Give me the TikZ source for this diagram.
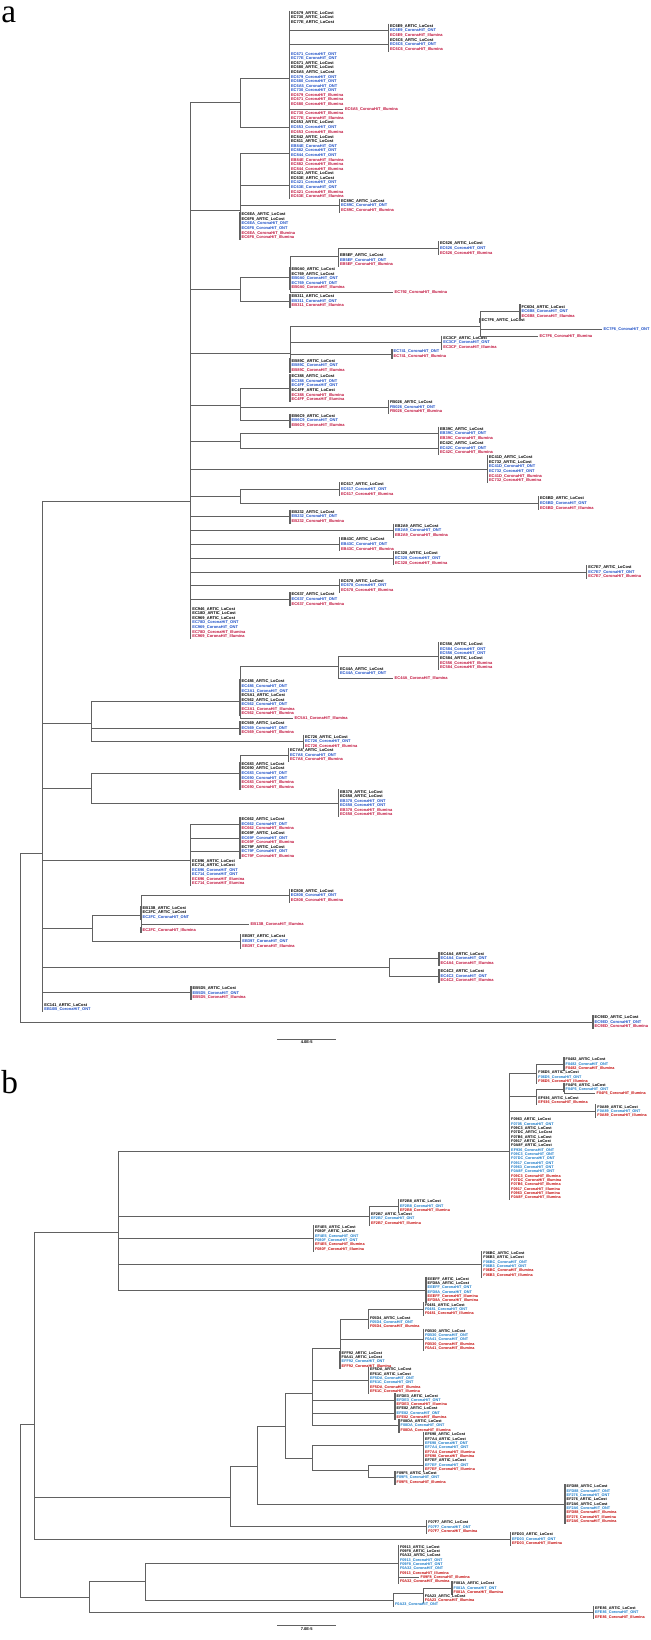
\documentclass[tikz,border=0pt]{standalone}
\usepackage{fontspec}
\setmainfont{Liberation Serif}
\newfontfamily\leaffont{Liberation Sans}
\usetikzlibrary{positioning}

\definecolor{aont}{RGB}{28,78,198}
\definecolor{aill}{RGB}{192,16,58}
\definecolor{bont}{RGB}{24,122,200}
\definecolor{bill}{RGB}{196,8,8}
\colorlet{ontc}{aont}
\colorlet{illc}{aill}

\newcommand{\leafA}{\leaffont\bfseries\fontsize{3}{3.43}\selectfont}
\newcommand{\leafB}{\leaffont\bfseries\fontsize{2.85}{3.25}\selectfont}
\newcommand{\lcost}[1]{#1\_ARTIC\_LoCost}
\newcommand{\ont}[1]{\textcolor{ontc}{#1\_CoronaHiT\_ONT}}
\newcommand{\ilmn}[1]{\textcolor{illc}{#1\_CoronaHiT\_Illumina}}
\newcommand{\trio}[1]{\lcost{#1}\\\ont{#1}\\\ilmn{#1}}
\newcommand{\leafgrp}[4]{\node[leaf] (#1) at (#2,#3) {#4};
  \draw[bar] (#1.north west) -- (#1.south west);}
\newcommand{\leafone}[4]{\node[leaf] (#1) at (#2,#3) {#4};}

\begin{document}
\begin{tikzpicture}[x=0.75pt,y=-0.75pt,
    br/.style={draw=black!62, line width=0.7pt},
    bar/.style={draw=black!62, line width=0.9pt},
    leaf/.style={anchor=west, inner xsep=1.1pt, inner ysep=0.5pt, align=left, font=\leafA},
    panel/.style={anchor=base west, inner sep=0pt, font=\fontsize{25}{25}\selectfont},
    scaletxt/.style={below=0.8pt, inner sep=0pt, font=\leafA}]
  \useasboundingbox (0,0) rectangle (650,1640);

  % ---- a ----
  \node[panel] (la) at (1,23) {a};

  \coordinate (aR) at (20.7,937);
  \coordinate (a1) at (42.7,853);
  \coordinate (aB) at (190.7,501.7);
  \coordinate (aC1) at (240,102.7);
  \coordinate (aD1) at (289.3,78.3);
  \coordinate (aC2) at (240,210.7);
  \coordinate (aC3) at (240,289.3);
  \coordinate (aD3) at (290,277.3);
  \coordinate (aE1) at (338.3,256.7);
  \coordinate (aC4) at (290,353.3);
  \coordinate (aE2) at (480,326);
  \coordinate (aC5) at (240,405.7);
  \coordinate (aC6) at (240,441);
  \coordinate (aC7) at (240,496.3);
  \coordinate (a2) at (91.7,723.3);
  \coordinate (a2a) at (240,701);
  \coordinate (a2b) at (338.3,666);
  \coordinate (a3) at (91.7,788.3);
  \coordinate (a3a) at (240,773.3);
  \coordinate (a4) at (190.5,860.7);
  \coordinate (a5) at (92,928.5);
  \coordinate (a5a) at (141,915.3);
  \coordinate (a6) at (389,967.5);

  \leafgrp{z01}{289.3}{17.7}{\lcost{EC679}\\\lcost{EC730}\\\lcost{EC77E}}
  \leafgrp{g01}{388.3}{30.7}{\trio{EC6E9}}
  \leafgrp{g02}{388.3}{44.7}{\trio{EC6C6}}
  \leafgrp{z02}{289.3}{79.2}{\ont{EC671}\\\ont{EC77E}\\\lcost{EC671}\\\lcost{EC680}\\\lcost{EC6A5}\\\ont{EC679}\\\ont{EC680}\\\ont{EC6A5}\\\ont{EC730}\\\ilmn{EC679}\\\ilmn{EC671}\\\ilmn{EC680}}
  \leafone{s01}{343.3}{109}{\ilmn{EC6A5}}
  \leafgrp{z03}{289.3}{116}{\ilmn{EC730}\\\ilmn{EC77E}}
  \leafgrp{g03}{289.3}{127.3}{\trio{EC653}}
  \leafgrp{g04}{289.3}{153}{\lcost{EC842}\\\lcost{EC811}\\\ont{EB84E}\\\ont{EC882}\\\ont{EC844}\\\ilmn{EB84E}\\\ilmn{EC882}\\\ilmn{EC844}}
  \leafgrp{g05}{289.3}{185}{\lcost{EC421}\\\lcost{EC63E}\\\ont{EC421}\\\ont{EC63E}\\\ilmn{EC421}\\\ilmn{EC63E}}
  \leafgrp{g06}{339.3}{205.7}{\trio{EC89C}}
  \leafgrp{z04}{240}{226}{\lcost{EC6EA}\\\lcost{EC6F8}\\\ont{EC6EA}\\\ont{EC6F8}\\\ilmn{EC6EA}\\\ilmn{EC6F8}}
  \leafgrp{g08}{438.3}{248.3}{\trio{EC626}}
  \leafgrp{z06}{338.3}{260}{\trio{EB5EF}}
  \leafgrp{z05}{290}{278.5}{\lcost{EB0A0}\\\lcost{EC769}\\\ont{EB0A0}\\\ont{EC769}\\\ilmn{EB0A0}}
  \leafone{s02}{393}{292.3}{\ilmn{EC792}}
  \leafgrp{g07}{290}{301}{\trio{EB311}}
  \leafgrp{g11}{520}{311.5}{\lcost{FC6D4}\\\ont{EC6B8}\\\ilmn{EC6B8}}
  \leafgrp{z08}{480}{320.5}{\lcost{EC7F6}}
  \leafone{s03}{602}{329}{\ont{EC7F6}}
  \leafone{s04}{538}{336}{\ilmn{EC7F6}}
  \leafgrp{g09}{441.7}{342.7}{\trio{EC3CF}}
  \leafgrp{g10}{392}{354}{\ont{EC741}\\\ilmn{EC741}}
  \leafgrp{z07}{290}{365.5}{\trio{EB89C}}
  \leafgrp{g12}{290}{388}{\lcost{EC388}\\\ont{EC388}\\\ont{EC4FF}\\\lcost{EC4FF}\\\ilmn{EC388}\\\ilmn{EC4FF}}
  \leafgrp{g13}{388.3}{407}{\trio{FB026}}
  \leafgrp{g14}{290}{420.7}{\trio{EB6C9}}
  \leafgrp{g15}{438.3}{433.7}{\trio{EB39C}}
  \leafgrp{g16}{438.3}{448}{\trio{EC42C}}
  \leafgrp{g17}{487.3}{469}{\lcost{EC41D}\\\lcost{EC732}\\\ont{EC41D}\\\ont{EC732}\\\ilmn{EC41D}\\\ilmn{EC732}}
  \leafgrp{g18}{339.3}{489.3}{\trio{EC617}}
  \leafgrp{g19}{538.3}{503.3}{\trio{EC6BD}}
  \leafgrp{g20}{290}{516.7}{\trio{EB232}}
  \leafgrp{g21}{393.3}{530.7}{\trio{EB2A9}}
  \leafgrp{g22}{339.3}{544.3}{\trio{EB43C}}
  \leafgrp{g23}{393.3}{558.3}{\trio{EC328}}
  \leafgrp{g24}{586.7}{572}{\trio{EC7E7}}
  \leafgrp{g25}{339.3}{585.7}{\trio{EC678}}
  \leafgrp{g26}{290}{599.3}{\trio{EC637}}
  \leafgrp{z09}{190.7}{622.7}{\lcost{EC946}\\\lcost{EC18D}\\\lcost{EC969}\\\ont{EC78D}\\\ont{EC969}\\\ilmn{EC78D}\\\ilmn{EC969}}
  \leafgrp{g29}{438.3}{656}{\lcost{EC556}\\\ont{EC584}\\\ont{EC556}\\\lcost{EC584}\\\ilmn{EC556}\\\ilmn{EC584}}
  \leafgrp{z11}{338.3}{671.3}{\lcost{EC44A}\\\ont{EC44A}}
  \leafone{s06}{393}{678}{\ilmn{EC44A}}
  \leafgrp{z10}{240}{697.8}{\lcost{EC486}\\\ont{EC486}\\\ont{EC2A1}\\\lcost{EC5A1}\\\lcost{EC562}\\\ont{EC562}\\\ilmn{EC2A1}\\\ilmn{EC562}}
  \leafone{s05}{293}{718.7}{\ilmn{EC5A1}}
  \leafgrp{g27}{240}{728}{\trio{EC569}}
  \leafgrp{g28}{303.3}{741.7}{\trio{EC726}}
  \leafgrp{g31}{288.3}{755}{\trio{EC7A8}}
  \leafgrp{z12}{240}{775.7}{\lcost{EC683}\\\lcost{EC690}\\\ont{EC683}\\\ont{EC690}\\\ilmn{EC683}\\\ilmn{EC690}}
  \leafgrp{g30}{338.3}{803.3}{\lcost{EB378}\\\lcost{EC658}\\\ont{EB378}\\\ont{EC658}\\\ilmn{EB378}\\\ilmn{EC658}}
  \leafgrp{g32}{240}{824}{\trio{EC662}}
  \leafgrp{g33}{240}{838}{\trio{EC69F}}
  \leafgrp{g34}{240}{851.7}{\trio{EC79F}}
  \leafgrp{z13}{190.5}{872.3}{\lcost{EC696}\\\lcost{EC714}\\\ont{EC696}\\\ont{EC714}\\\ilmn{EC696}\\\ilmn{EC714}}
  \leafgrp{g36}{289.2}{895.8}{\trio{EC808}}
  \leafgrp{z14}{141}{912.8}{\lcost{EB13B}\\\lcost{EC2FC}\\\ont{EC2FC}}
  \leafone{s07}{249}{924.4}{\ilmn{EB13B}}
  \leafgrp{z15}{141}{930}{\ilmn{EC2FC}}
  \leafgrp{g35}{240.7}{941.4}{\trio{EB397}}
  \leafgrp{g37}{439}{958.8}{\trio{EC4A4}}
  \leafgrp{g38}{439}{976}{\trio{EC4C2}}
  \leafgrp{g39}{191}{992.9}{\trio{EB5D5}}
  \leafgrp{z16}{42.7}{1007.3}{\lcost{EC141}\\\ont{EB10B}}
  \leafgrp{g40}{593}{1022}{\trio{EC9ED}}

  \draw[br] (aR) |- (a1) (aR) |- (g40.west);
  \draw[br] (a1) |- (aB) (a1) |- (a2) (a1) |- (a3) (a1) |- (a4) (a1) |- (a5) (a1) |- (a6) (a1) |- (g39.west) (a1) |- (z16.west);
  \draw[br] (aB) |- (aC1) (aB) |- (aC2) (aB) |- (aC3) (aB) |- (aC4) (aB) |- (aC5) (aB) |- (aC6) (aB) |- (g17.west) (aB) |- (aC7);
  \draw[br] (aB) |- (g20.west) (aB) |- (g21.west) (aB) |- (g22.west) (aB) |- (g23.west) (aB) |- (g24.west) (aB) |- (g25.west) (aB) |- (g26.west) (aB) |- (z09.west);
  \draw[br] (aC1) |- (aD1) (aC1) |- (g03.west);
  \draw[br] (aD1) |- (z01.west) (aD1) |- (g01.west) (aD1) |- (g02.west) (aD1) |- (z02.west) (aD1) |- (s01.west) (aD1) |- (z03.west);
  \draw[br] (aC2) |- (g04.west) (aC2) |- (g05.west) (aC2) |- (g06.west) (aC2) |- (z04.west);
  \draw[br] (aC3) |- (aD3) (aC3) |- (g07.west);
  \draw[br] (aD3) |- (aE1) (aD3) |- (z05.west) (aD3) |- (s02.west);
  \draw[br] (aE1) |- (g08.west) (aE1) |- (z06.west);
  \draw[br] (aC4) |- (aE2) (aC4) |- (g09.west) (aC4) |- (g10.west) (aC4) |- (z07.west);
  \draw[br] (aE2) |- (g11.west) (aE2) |- (z08.west) (aE2) |- (s03.west) (aE2) |- (s04.west);
  \draw[br] (aC5) |- (g12.west) (aC5) |- (g13.west) (aC5) |- (g14.west);
  \draw[br] (aC6) |- (g15.west) (aC6) |- (g16.west);
  \draw[br] (aC7) |- (g18.west) (aC7) |- (g19.west);
  \draw[br] (a2) |- (a2a) (a2) |- (g27.west) (a2) |- (g28.west);
  \draw[br] (a2a) |- (a2b) (a2a) |- (z10.west) (a2a) |- (s05.west);
  \draw[br] (a2b) |- (g29.west) (a2b) |- (z11.west) (a2b) |- (s06.west);
  \draw[br] (a3) |- (a3a) (a3) |- (g30.west);
  \draw[br] (a3a) |- (g31.west) (a3a) |- (z12.west);
  \draw[br] (a4) |- (g32.west) (a4) |- (g33.west) (a4) |- (g34.west) (a4) |- (z13.west);
  \draw[br] (a5) |- (a5a) (a5) |- (g35.west);
  \draw[br] (a5a) |- (g36.west) (a5a) |- (z14.west) (a5a) |- (s07.west) (a5a) |- (z15.west);
  \draw[br] (a6) |- (g37.west) (a6) |- (g38.west);

  \coordinate (sa1) at (277.2,1039);
  \coordinate (sa2) at (336.1,1039);
  \draw[br] (sa1) -- (sa2) node[midway, scaletxt] (sat) {4.0E-5};

  % ---- b ----
  \node[panel] (lb) at (1,1093) {b};

  \begin{scope}[leaf/.append style={font=\leafB}]
  \colorlet{ontc}{bont}
  \colorlet{illc}{bill}

  \coordinate (bR) at (20.7,1510.5);
  \coordinate (b1) at (34.7,1424);
  \coordinate (b2) at (89.2,1597);
  \coordinate (bB1) at (118.3,1232.3);
  \coordinate (bC1) at (509.5,1151.7);
  \coordinate (bDa) at (536.7,1073.3);
  \coordinate (bDb) at (536.7,1096.7);
  \coordinate (bEa) at (564,1089.3);
  \coordinate (bC2) at (369.3,1216);
  \coordinate (bB2) at (230.3,1497.7);
  \coordinate (bC3) at (257.7,1466.7);
  \coordinate (bD1) at (285,1426);
  \coordinate (bE1) at (312.7,1393.3);
  \coordinate (bF1) at (340,1348.3);
  \coordinate (bG1) at (368.3,1319.3);
  \coordinate (bE2) at (312.7,1458.3);
  \coordinate (bG2) at (368.3,1470.7);
  \coordinate (bB3) at (145.2,1581.1);
  \coordinate (bC5) at (398.3,1563.8);
  \coordinate (bC4) at (393.4,1600);
  \coordinate (bD2) at (423.2,1593.7);

  \leafgrp{h01}{564}{1064}{\trio{F0482}}
  \leafgrp{y01}{536.7}{1077}{\trio{F06D5}}
  \leafgrp{y02}{564}{1087.3}{\lcost{F04F6}\\\ont{F04F6}}
  \leafone{t01}{595}{1093.3}{\ilmn{F04F6}}
  \leafgrp{y03}{536.7}{1100.5}{\lcost{EF936}\\\ilmn{EF936}}
  \leafgrp{h02}{595.7}{1111.3}{\trio{F0A89}}
  \leafgrp{y04}{509.5}{1158.8}{\lcost{F0963}\\\ont{F0705}\\\lcost{F09C3}\\\lcost{F07DC}\\\lcost{F07B6}\\\lcost{F0917}\\\lcost{F0A8F}\\\ont{EF936}\\\ont{F09C3}\\\ont{F07DC}\\\ont{F0917}\\\ont{F0963}\\\ont{F0A8F}\\\ilmn{F09C3}\\\ilmn{F07DC}\\\ilmn{F07B6}\\\ilmn{F0917}\\\ilmn{F0963}\\\ilmn{F0A8F}}
  \leafgrp{h03}{398.3}{1206}{\trio{EF2B8}}
  \leafgrp{y05}{369.3}{1218.7}{\trio{EF2B7}}
  \leafgrp{h04}{313.3}{1238.3}{\lcost{EF4E5}\\\lcost{F080F}\\\ont{EF4E5}\\\ont{F080F}\\\ilmn{EF4E5}\\\ilmn{F080F}}
  \leafgrp{h05}{481.7}{1264.3}{\lcost{F06BC}\\\lcost{F06B3}\\\ont{F06BC}\\\ont{F06B3}\\\ilmn{F06BC}\\\ilmn{F06B3}}
  \leafgrp{h06}{426}{1290}{\lcost{EEEFF}\\\lcost{EFD8A}\\\ont{EEEFF}\\\ont{EFD8A}\\\ilmn{EEEFF}\\\ilmn{EFD8A}}
  \leafgrp{h07}{423.3}{1309.3}{\trio{F0481}}
  \leafgrp{y06}{368.3}{1322.3}{\trio{F05D4}}
  \leafgrp{h08}{423.3}{1339.7}{\lcost{F0B30}\\\ont{F0B30}\\\ont{F0A41}\\\ilmn{F0B30}\\\ilmn{F0A41}}
  \leafgrp{y07}{340}{1359.7}{\lcost{EFF92}\\\lcost{F0A41}\\\ont{EFF92}\\\ilmn{EFF92}}
  \leafgrp{h09}{368.3}{1380.7}{\lcost{EF5DA}\\\lcost{EF61C}\\\ont{EF5DA}\\\ont{EF61C}\\\ilmn{EF5DA}\\\ilmn{EF61C}}
  \leafgrp{h10}{395}{1400.3}{\trio{EFDE3}}
  \leafgrp{h11}{395}{1413}{\trio{EFE82}}
  \leafgrp{h12}{399}{1425.7}{\trio{F08DA}}
  \leafgrp{h13}{423.3}{1445.5}{\lcost{EF698}\\\lcost{EF7A4}\\\ont{EF698}\\\ont{EF7A4}\\\ilmn{EF7A4}\\\ilmn{EF698}}
  \leafgrp{h14}{423.3}{1465}{\trio{EF7EF}}
  \leafgrp{h15}{395}{1477.7}{\trio{F09F5}}
  \leafgrp{h16}{565}{1504}{\lcost{EFD88}\\\ont{EFD88}\\\ont{EF276}\\\lcost{EF276}\\\lcost{EF2A6}\\\ont{EF2A6}\\\ilmn{EFD88}\\\ilmn{EF276}\\\ilmn{EF2A6}}
  \leafgrp{h17}{426.6}{1526.9}{\trio{F07F7}}
  \leafgrp{h18}{510.4}{1539.2}{\trio{EFD03}}
  \leafgrp{y08}{398.3}{1560}{\lcost{F0913}\\\lcost{F09F8}\\\lcost{F0A32}\\\ont{F0913}\\\ont{F09F8}\\\ont{F0A32}\\\ilmn{F0913}}
  \leafone{t02}{419}{1577}{\ilmn{F09F8}}
  \leafgrp{y09}{398.3}{1581.5}{\ilmn{F0A32}}
  \leafgrp{h19}{452}{1588}{\trio{F081A}}
  \leafgrp{y10}{423.2}{1598.3}{\lcost{F0A23}\\\ilmn{F0A23}}
  \leafgrp{y11}{393.4}{1604.4}{\ont{F0A23}}
  \leafgrp{h20}{593.4}{1612.6}{\trio{EFE86}}
  \end{scope}

  \draw[br] (bR) |- (b1) (bR) |- (b2);
  \draw[br] (b1) |- (bB1) (b1) |- (bB2) (b1) |- (h18.west);
  \draw[br] (bB1) |- (bC1) (bB1) |- (bC2) (bB1) |- (h04.west) (bB1) |- (h05.west) (bB1) |- (h06.west);
  \draw[br] (bC1) |- (bDa) (bC1) |- (bDb) (bC1) |- (h02.west) (bC1) |- (y04.west);
  \draw[br] (bDa) |- (h01.west) (bDa) |- (y01.west);
  \draw[br] (bDb) |- (bEa) (bDb) |- (y03.west);
  \draw[br] (bEa) |- (y02.west) (bEa) |- (t01.west);
  \draw[br] (bC2) |- (h03.west) (bC2) |- (y05.west);
  \draw[br] (bB2) |- (bC3) (bB2) |- (h17.west);
  \draw[br] (bC3) |- (bD1) (bC3) |- (h16.west);
  \draw[br] (bD1) |- (bE1) (bD1) |- (bE2);
  \draw[br] (bE1) |- (bF1) (bE1) |- (h09.west) (bE1) |- (h10.west) (bE1) |- (h11.west) (bE1) |- (h12.west);
  \draw[br] (bF1) |- (bG1) (bF1) |- (h08.west) (bF1) |- (y07.west);
  \draw[br] (bG1) |- (h07.west) (bG1) |- (y06.west);
  \draw[br] (bE2) |- (h13.west) (bE2) |- (bG2);
  \draw[br] (bG2) |- (h14.west) (bG2) |- (h15.west);
  \draw[br] (b2) |- (bB3) (b2) |- (h20.west);
  \draw[br] (bB3) |- (bC5) (bB3) |- (bC4);
  \draw[br] (bC5) |- (y08.west) (bC5) |- (t02.west) (bC5) |- (y09.west);
  \draw[br] (bC4) |- (bD2) (bC4) |- (y11.west);
  \draw[br] (bD2) |- (h19.west) (bD2) |- (y10.west);

  \coordinate (sb1) at (277.2,1625.9);
  \coordinate (sb2) at (336.1,1625.9);
  \draw[br] (sb1) -- (sb2) node[midway, scaletxt] (sbt) {7.0E-5};
\end{tikzpicture}
\end{document}
